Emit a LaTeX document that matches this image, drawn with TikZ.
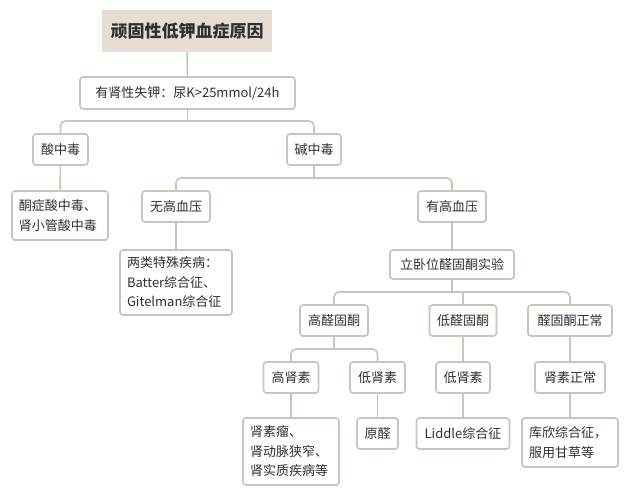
\documentclass[tikz,border=0pt]{standalone}
\usepackage{fontspec}
\setmainfont{Noto Sans CJK SC}
\definecolor{lc}{RGB}{202,196,189}
\definecolor{tc}{RGB}{48,48,48}
\definecolor{rootfill}{RGB}{230,222,213}
\tikzset{
  box/.style={draw=lc, line width=1.6pt, rounded corners=3pt, fill=white, text=tc,
    font=\fontsize{13}{19.5}\selectfont, inner xsep=0pt, inner ysep=0pt, align=center},
  mbox/.style={box, align=left, inner xsep=7pt},
  rootbox/.style={fill=rootfill, text=tc, font=\fontsize{17}{22}\selectfont\bfseries, inner sep=0pt},
  conn/.style={draw=lc, line width=1.6pt, rounded corners=5pt},
}
\begin{document}
\begin{tikzpicture}[x=1pt,y=-1pt]
\useasboundingbox[fill=white] (0,0) rectangle (640,495);
\node[rootbox, minimum width=170pt, minimum height=42pt] (root) at (187,31) {顽固性低钾血症原因};
\node[box, minimum width=215pt, minimum height=32pt] (l1) at (187.5,93) {有肾性失钾：尿K>25mmol/24h};
\node[box, minimum width=55pt, minimum height=31pt] (acid) at (60.5,149.5) {酸中毒};
\node[box, minimum width=54pt, minimum height=31pt] (alk) at (314,149.5) {碱中毒};
\node[mbox, text width=82pt, minimum height=49pt] (ket) at (60,215.5) {酮症酸中毒、\\肾小管酸中毒};
\node[box, minimum width=68pt, minimum height=31pt] (noht) at (176,206.5) {无高血压};
\node[box, minimum width=68pt, minimum height=31pt] (ht) at (452,206.5) {有高血压};
\node[mbox, text width=98pt, minimum height=65pt] (bat) at (176,282.5) {两类特殊疾病：\\Batter综合征、\\Gitelman综合征};
\node[box, minimum width=124pt, minimum height=29pt] (up) at (452,264.5) {立卧位醛固酮实验};
\node[box, minimum width=68pt, minimum height=31pt] (hia) at (334,320.5) {高醛固酮};
\node[box, minimum width=67pt, minimum height=31pt] (loa) at (463,320.5) {低醛固酮};
\node[box, minimum width=84pt, minimum height=31pt] (noa) at (570,320.5) {醛固酮正常};
\node[box, minimum width=55pt, minimum height=31pt] (hir) at (291,377.5) {高肾素};
\node[box, minimum width=55pt, minimum height=31pt] (lor1) at (377.5,377.5) {低肾素};
\node[box, minimum width=54pt, minimum height=31pt] (lor2) at (463,377.5) {低肾素};
\node[box, minimum width=70pt, minimum height=31pt] (nor) at (570,377.5) {肾素正常};
\node[mbox, text width=82pt, minimum height=67pt] (tum) at (291,451.5) {肾素瘤、\\肾动脉狭窄、\\肾实质疾病等};
\node[box, minimum width=41pt, minimum height=31pt] (yq) at (377.5,433.5) {原醛};
\node[box, minimum width=93pt, minimum height=31pt] (lid) at (463,433.5) {Liddle综合征};
\node[mbox, text width=82pt, minimum height=49pt] (cus) at (570,442.5) {库欣综合征，\\服用甘草等};
% connectors
\draw[conn] (root) -- (l1);
\draw[conn] (l1.south) -- (l1.south |- 0,121);
\draw[conn] (acid.north) |- (alk.north |- 0,121) -- (alk.north);
\draw[conn] (acid) -- (ket);
\draw[conn] (alk.south) -- (alk.south |- 0,178);
\draw[conn] (noht.north) |- (ht.north |- 0,178) -- (ht.north);
\draw[conn] (noht) -- (bat);
\draw[conn] (ht) -- (up);
\draw[conn] (up.south) -- (up.south |- 0,292);
\draw[conn] (hia.north) |- (noa.north |- 0,292) -- (noa.north);
\draw[conn] (loa.north) -- (loa.north |- 0,292);
\draw[conn] (hia.south) -- (hia.south |- 0,349);
\draw[conn] (hir.north) |- (lor1.north |- 0,349) -- (lor1.north);
\draw[conn] (loa) -- (lor2);
\draw[conn] (noa) -- (nor);
\draw[conn] (hir) -- (tum);
\draw[conn] (lor1) -- (yq);
\draw[conn] (lor2) -- (lid);
\draw[conn] (nor) -- (cus);
\end{tikzpicture}
\end{document}
